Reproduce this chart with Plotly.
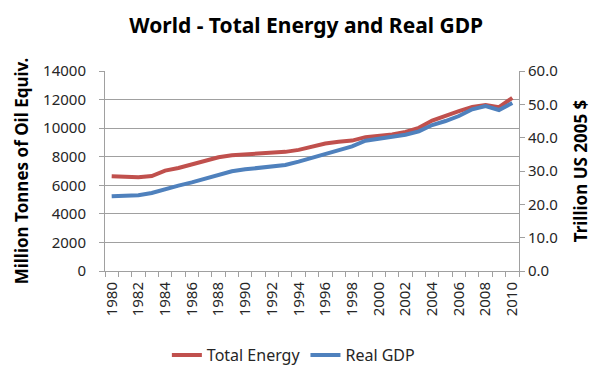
import plotly.graph_objects as go

years = list(range(1980, 2011))
total_energy = [6630, 6590, 6560, 6650, 7030, 7210, 7450, 7730, 7960, 8100,
                8150, 8220, 8270, 8340, 8480, 8690, 8920, 9040, 9130, 9370,
                9440, 9550, 9740, 10020, 10530, 10890, 11190, 11490, 11620, 11470, 12120]
real_gdp = [22.4, 22.6, 22.7, 23.4, 24.6, 25.6, 26.6, 27.7, 28.9, 29.9,
            30.5, 30.9, 31.4, 31.8, 32.8, 33.9, 35.2, 36.4, 37.4, 39.1,
            39.7, 40.2, 40.9, 41.9, 43.8, 45.0, 46.5, 48.5, 49.5, 48.3, 50.4]
x_ticks = list(range(1980, 2011, 2))

FONT = "Noto Sans"
GREY = "#A0A0A0"
TICKCOL = "#262626"

fig = go.Figure()
fig.add_trace(go.Scatter(x=years, y=total_energy, name="Total Energy", mode="lines",
                         line=dict(color="#C0504D", width=4), yaxis="y"))
fig.add_trace(go.Scatter(x=years, y=real_gdp, name="Real GDP", mode="lines",
                         line=dict(color="#4F81BD", width=4), yaxis="y2"))

fig.update_layout(
    width=600, height=383,
    margin=dict(l=97, r=89, t=63, b=120),
    paper_bgcolor="white", plot_bgcolor="white",
    font=dict(family=FONT, size=15, color="#000000"),
    title=dict(text="<b>World - Total Energy and Real GDP</b>", x=0.497, xanchor="center",
               y=0.955, yanchor="middle", font=dict(family=FONT, size=21, color="black")),
    showlegend=True,
    legend=dict(orientation="h", x=0.455, xanchor="center", y=-0.42, yanchor="middle",
                font=dict(family=FONT, size=16, color=TICKCOL)),
    xaxis=dict(range=[1979.5, 2010.5], tickmode="array", tickvals=x_ticks,
               ticktext=[str(v) for v in x_ticks], tickangle=-90, ticks="",
               showgrid=False, showline=True, linecolor=GREY, linewidth=1,
               zeroline=False, tickfont=dict(size=15, color=TICKCOL),
               ticklabelstandoff=4,
               minor=dict(tick0=1979.5, dtick=1, ticks="outside", ticklen=5,
                          tickcolor=GREY, showgrid=False)),
    yaxis=dict(range=[0, 14000], dtick=2000, tickformat="d", showgrid=True,
               gridcolor=GREY, gridwidth=1,
               showline=True, linecolor=GREY, linewidth=1, ticks="outside", ticklen=5,
               tickcolor=GREY, zeroline=False, tickfont=dict(size=15, color=TICKCOL),
               ticklabelstandoff=10,
               title=dict(text="<b>Million Tonnes of Oil Equiv.</b>", standoff=10,
                          font=dict(family=FONT, size=17))),
    yaxis2=dict(range=[0, 60], dtick=10, tickformat=".1f", overlaying="y", side="right",
                showgrid=False, showline=True, linecolor=GREY, linewidth=1,
                ticks="outside", ticklen=5, tickcolor=GREY, zeroline=False,
                tickfont=dict(size=15, color=TICKCOL),
                title=dict(text="<b>Trillion US 2005 $</b>", standoff=18,
                           font=dict(family=FONT, size=17))),
)

fig.write_html("out.html")
